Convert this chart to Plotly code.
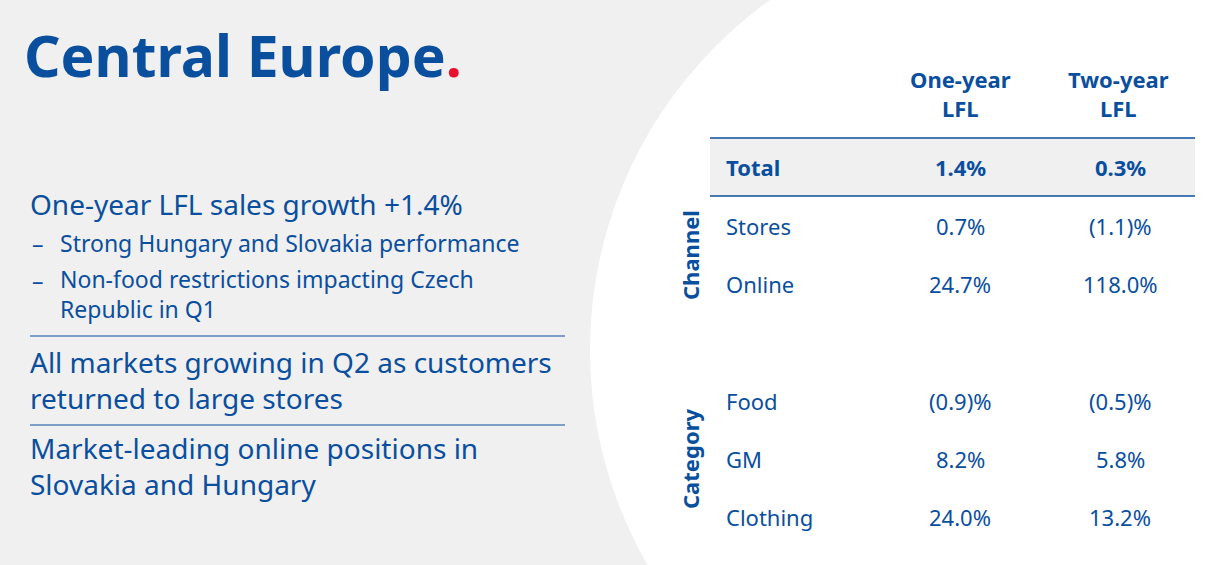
import plotly.graph_objects as go

row_labels = ["Total", "Stores", "Online", "Food", "GM", "Clothing"]
one_year = ["1.4%", "0.7%", "24.7%", "(0.9)%", "8.2%", "24.0%"]
two_year = ["0.3%", "(1.1)%", "118.0%", "(0.5)%", "5.8%", "13.2%"]
col_headers = ["One-year<br>LFL", "Two-year<br>LFL"]
groups = ["Channel", "Category"]
row_y = [167, 226, 284, 401, 459, 517]

BLUE = "#0a4f9e"
FONT = "Noto Sans"
fig = go.Figure()
fig.update_layout(width=1213, height=565, margin=dict(l=0, r=0, t=0, b=0),
                  paper_bgcolor="#f0f0f0", plot_bgcolor="rgba(0,0,0,0)", showlegend=False,
                  xaxis=dict(range=[0, 1213], visible=False, fixedrange=True),
                  yaxis=dict(range=[565, 0], visible=False, fixedrange=True))
shapes = [
    dict(type="circle", x0=1020-430, x1=1020+430, y0=350-430, y1=350+430, fillcolor="white", line_width=0, layer="below"),
    dict(type="rect", x0=710, x1=1195, y0=138, y1=196, fillcolor="#f0f0f0", line_width=0, layer="below"),
    dict(type="line", x0=710, x1=1195, y0=138, y1=138, line=dict(color=BLUE, width=1.5)),
    dict(type="line", x0=710, x1=1195, y0=196, y1=196, line=dict(color=BLUE, width=1.5)),
    dict(type="line", x0=30, x1=565, y0=336, y1=336, line=dict(color=BLUE, width=1)),
    dict(type="line", x0=30, x1=565, y0=425, y1=425, line=dict(color=BLUE, width=1)),
]
fig.update_layout(shapes=shapes)
ann = []
def A(x, y, t, size, bold=False, xa="left", color=BLUE, angle=0):
    ann.append(dict(x=x, y=y, text=f"<b>{t}</b>" if bold else t, showarrow=False, xanchor=xa, yanchor="middle",
                    align=xa if xa != "center" else "center", textangle=angle,
                    font=dict(family=FONT, size=size, color=color)))
A(22, 55, "Central Europe<span style='color:#e8112d'>.</span>", 57, bold=True)
A(28, 204, "One-year LFL sales growth +1.4%", 28)
A(30, 243, "–", 23); A(58, 243, "Strong Hungary and Slovakia performance", 23)
A(30, 280, "–", 23); A(58, 294, "Non-food restrictions impacting Czech<br>Republic in Q1", 23)
A(28, 380, "All markets growing in Q2 as customers<br>returned to large stores", 28)
A(28, 466, "Market-leading online positions in<br>Slovakia and Hungary", 28)
A(960, 93, col_headers[0], 22, bold=True, xa="center")
A(1118, 93, col_headers[1], 22, bold=True, xa="center")
for i, (lab, a, b) in enumerate(zip(row_labels, one_year, two_year)):
    bold = i == 0
    A(724, row_y[i], lab, 22, bold=bold)
    A(960, row_y[i], a, 22, bold=bold, xa="center")
    A(1120, row_y[i], b, 22, bold=bold, xa="center")
A(690, 255, groups[0], 22, bold=True, xa="center", angle=-90)
A(690, 459, groups[1], 22, bold=True, xa="center", angle=-90)
fig.update_layout(annotations=ann)
fig.write_html("out.html", config={"displayModeBar": False},
               post_script="document.body.style.margin='0';")
